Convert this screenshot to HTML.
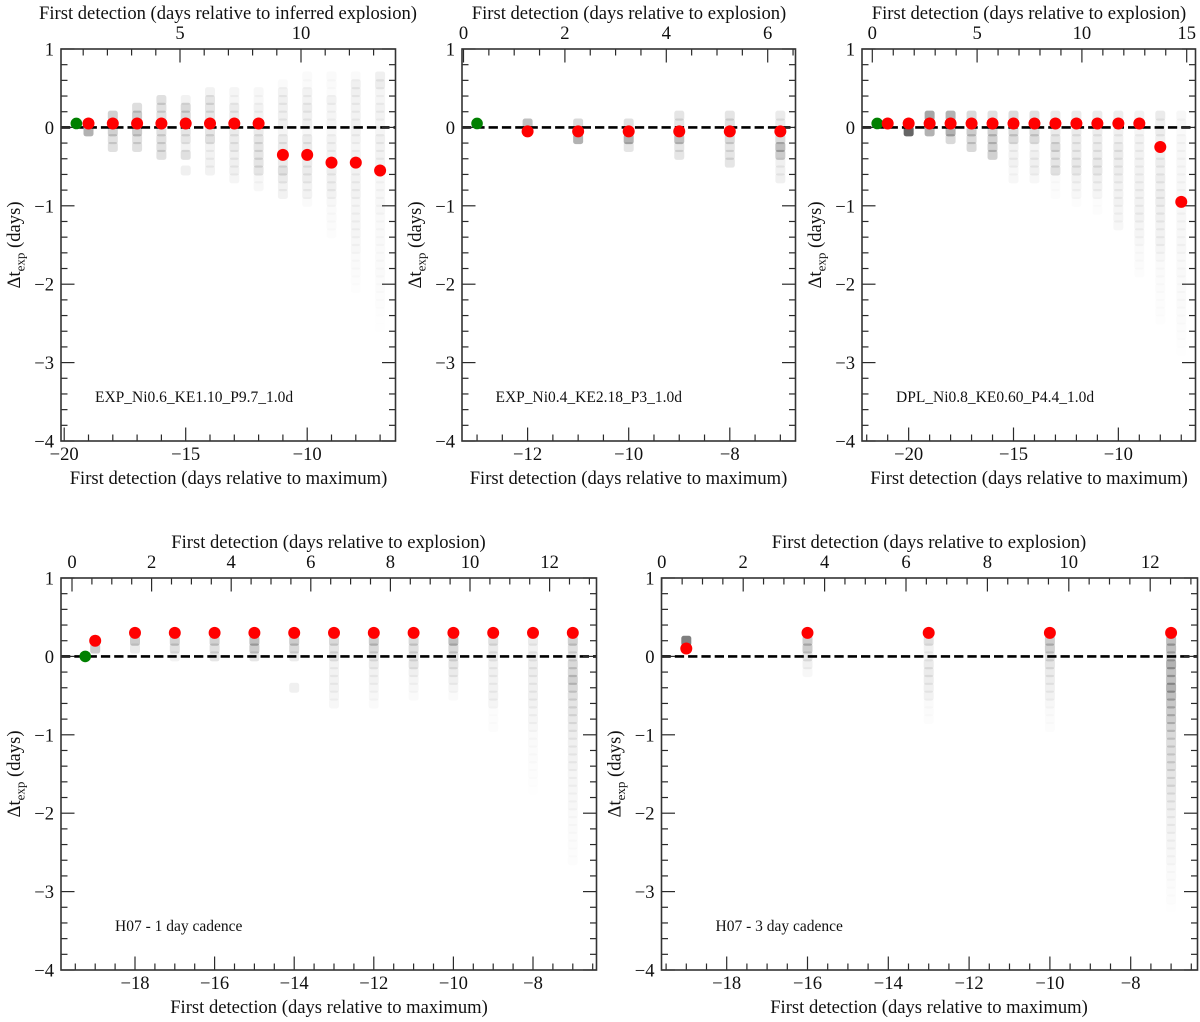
<!DOCTYPE html>
<html lang="en">
<head>
<meta charset="utf-8">
<title>First detection timing panels</title>
<style>
html,body{margin:0;padding:0;background:#fff;width:1200px;height:1022px;overflow:hidden}
svg{display:block}
text{font-family:"Liberation Serif",serif;fill:#111}
</style>
</head>
<body>
<svg id="chart" width="1200" height="1022" viewBox="0 0 1200 1022" xmlns="http://www.w3.org/2000/svg"></svg>
<script>
// Shared y axis
const yMajorTicks = [1, 0, -1, -2, -3, -4];

// Panel 1
const p1Days = [-19, -18, -17, -16, -15, -14, -13, -12, -11, -10, -9, -8, -7];
const p1Delta = [0.05, 0.05, 0.05, 0.05, 0.05, 0.05, 0.05, 0.05, -0.35, -0.35, -0.45, -0.45, -0.55];
const p1Green = [-19.5, 0.05];
const p1Tops = [0.05, 0.15, 0.25, 0.35, 0.35, 0.45, 0.45, 0.45, 0.55, 0.65, 0.65, 0.65, 0.65];
const p1Density = [
  [30, 30],
  [18, 18, 18, 12, 12],
  [13, 20, 20, 20, 12, 12],
  [12, 12, 12, 12, 12, 12, 12, 12],
  [5, 15, 15, 13, 10, 10, 5, 12, 0, 6],
  [5, 10, 10, 10, 10, 10, 12, 5, 5, 5, 5],
  [4, 4, 8, 8, 8, 8, 8, 8, 6, 6, 6, 4],
  [3, 3, 5, 5, 8, 8, 10, 10, 10, 10, 10, 3, 3],
  [2, 5, 6, 6, 6, 6, 4, 8, 8, 8, 8, 12, 8, 5, 5],
  [2, 2, 5, 5, 7, 6, 6, 3, 8, 8, 8, 8, 8, 7, 5, 5, 2],
  [2, 2, 1.5, 5, 4, 4, 4, 3, 5, 5, 5, 5, 7, 6, 6, 5, 3, 2, 2, 1.5, 1],
  [2, 6, 6, 5, 5, 5, 5, 5, 5, 4, 5, 5, 5, 5, 5, 5, 4, 4, 4, 4, 4, 3, 3, 2, 2, 1.5, 1, 0.8],
  [6, 7, 4, 4, 5, 5, 4, 4, 6, 5, 5, 5, 3, 3, 3, 3, 3, 3, 2.5, 2.5, 2.5, 2.5, 2, 2, 2, 2, 1.5, 1.5, 1, 1, 0.8, 0.5, 0.3]
];
const p1BottomTicks = [-20, -15, -10];
const p1TopTicks = [5, 10];

// Panel 2
const p2Days = [-12, -11, -10, -9, -8, -7];
const p2Delta = [-0.05, -0.05, -0.05, -0.05, -0.05, -0.05];
const p2Green = [-13, 0.05];
const p2Tops = [0.05, 0.05, 0.05, 0.15, 0.15, 0.15];
const p2Density = [
  [25, 25],
  [15, 15, 30],
  [12, 20, 30, 10],
  [10, 10, 15, 25, 10, 10],
  [10, 12, 12, 15, 10, 10, 10],
  [8, 8, 8, 15, 25, 20, 6, 6, 6]
];
const p2BottomTicks = [-12, -10, -8];
const p2TopTicks = [0, 2, 4, 6];

// Panel 3
const p3Days = [-21, -20, -19, -18, -17, -16, -15, -14, -13, -12, -11, -10, -9, -8, -7];
const p3Delta = [0.05, 0.05, 0.05, 0.05, 0.05, 0.05, 0.05, 0.05, 0.05, 0.05, 0.05, 0.05, 0.05, -0.25, -0.95];
const p3Green = [-21.5, 0.05];
const p3Tops = [0.05, 0.05, 0.15, 0.15, 0.15, 0.15, 0.15, 0.15, 0.15, 0.15, 0.15, 0.15, 0.15, 0.15, 0.15];
const p3Density = [
  [20],
  [50, 60],
  [35, 35, 30],
  [30, 30, 30, 15],
  [15, 20, 20, 15, 15],
  [12, 12, 18, 18, 18, 18],
  [14, 14, 14, 14, 5, 5, 5, 3, 3],
  [12, 12, 14, 14, 4, 6, 6, 6, 3],
  [8, 10, 8, 10, 14, 10, 10, 12, 2, 1.5, 1],
  [8, 8, 8, 8, 8, 8, 9, 9, 5, 4, 3, 1],
  [8, 8, 7, 7, 8, 8, 9, 9, 6, 5, 4, 1, 1],
  [7, 7, 6, 6, 8, 8, 7, 7, 6, 5, 5, 5, 4, 4, 3],
  [5, 5, 4, 5, 5, 5, 5, 5, 5, 5, 5, 5, 5, 5, 4, 4, 3, 2, 2, 1.5, 1],
  [8, 6, 7, 6, 7, 6, 7, 6, 7, 6, 7, 7, 6, 6, 5, 5, 5, 4, 3, 2, 2, 1.5, 1.5, 1.2, 1, 1, 0.6],
  [3, 3, 2, 3, 3, 3, 3, 3, 3, 3, 3, 3, 3, 3, 3, 3, 3, 3, 2.5, 2.5, 2.5, 2, 2, 2, 2, 1.5, 1.5, 1, 1, 0.7, 0.5]
];
const p3BottomTicks = [-20, -15, -10];
const p3TopTicks = [0, 5, 10, 15];

// Panel 4
const p4Days = [-19, -18, -17, -16, -15, -14, -13, -12, -11, -10, -9, -8, -7];
const p4Delta = [0.2, 0.3, 0.3, 0.3, 0.3, 0.3, 0.3, 0.3, 0.3, 0.3, 0.3, 0.3, 0.3];
const p4Green = [-19.25, 0];
const p4Tops = [0.2, 0.2, 0.2, 0.2, 0.2, 0.2, 0.2, 0.2, 0.2, 0.2, 0.2, 0.2, 0.2];
const p4Density = [
  [15, 20],
  [20, 8],
  [18, 12, 5],
  [18, 12, 10],
  [25, 20, 10],
  [20, 15, 8, 0, 0, 0, 6],
  [15, 10, 10, 5, 5, 5, 5, 4, 3],
  [20, 15, 10, 8, 5, 5, 4, 3, 2],
  [15, 12, 10, 10, 6, 4, 3, 2],
  [25, 15, 12, 10, 8, 6, 4, 2],
  [12, 8, 8, 6, 6, 5, 5, 5, 4, 1, 1, 1],
  [8, 5, 7, 7, 7, 6, 6, 6, 5, 4, 4, 3, 2, 2, 1.5, 1.5, 1, 1, 0.8, 0.5],
  [18, 12, 10, 15, 15, 18, 15, 12, 10, 10, 9, 8, 7, 6, 6, 5, 5, 4, 4, 3.5, 3, 3, 2.5, 2, 2, 1.5, 1.5, 1, 1]
];
const p4BottomTicks = [-18, -16, -14, -12, -10, -8];
const p4TopTicks = [0, 2, 4, 6, 8, 10, 12];

// Panel 5
const p5Days = [-19, -16, -13, -10, -7];
const p5Delta = [0.1, 0.3, 0.3, 0.3, 0.3];
const p5Tops = [0.2, 0.2, 0.2, 0.2, 0.2];
const p5Density = [
  [50, 50],
  [20, 20, 10, 6, 3],
  [12, 5, 5, 8, 8, 7, 6, 5, 2, 1.5, 1],
  [20, 18, 12, 10, 8, 7, 6, 5, 3, 2, 1.5, 1],
  [25, 25, 20, 30, 25, 25, 30, 25, 22, 20, 20, 17, 15, 13, 13, 12, 12, 10, 10, 9, 8, 7, 6, 5, 5, 4, 4, 3, 3, 2, 2, 1.5, 1, 1, 0.5]
];
const p5BottomTicks = [-18, -16, -14, -12, -10, -8];
const p5TopTicks = [0, 2, 4, 6, 8, 10, 12];

const SVG_NS = 'http://www.w3.org/2000/svg';
const root = document.getElementById('chart');

function make(tag, attrs, parent) {
  const el = document.createElementNS(SVG_NS, tag);
  for (const k in attrs) el.setAttribute(k, attrs[k]);
  parent.appendChild(el);
  return el;
}
function fmt(v) {
  return v < 0 ? '\u2212' + Math.abs(v) : String(v);
}
function range(from, to, step) {
  const out = [];
  const n = Math.round((to - from) / step);
  for (let i = 0; i <= n; i++) out.push(from + i * step);
  return out;
}

function drawPanel(cfg) {
  const L = cfg.left, R = cfg.right, T = cfg.top, B = T + 392;
  const id = cfg.id;
  const sx = function (d) { return cfg.bottomRef + (d - cfg.bottomRefValue) * cfg.bottomScale; };
  const tx = function (d) { return cfg.topRef + (d - cfg.topRefValue) * cfg.topScale; };
  const sy = function (v) { return T + (1 - v) * 78.4; };

  const g = make('g', {}, root);
  
  

  // density columns
  const cols = make('g', {}, g);
  
  
  cfg.days.forEach(function (d, c) {
    cfg.density[c].forEach(function (pct, i) {
      if (pct <= 0) return;
      const level = cfg.tops[c] - i * 0.1;
      const cell = make('rect', {
        x: sx(d) - 5, y: sy(level) - 5, width: 10, height: 10, rx: 2.5,
        fill: '#000', 'fill-opacity': pct / 100
      }, cols);
      
      
    });
  });

  // zero line
  const zero = make('line', {
    x1: L, x2: R, y1: sy(0), y2: sy(0), stroke: '#000', 'stroke-width': 2.6,
    'stroke-dasharray': '9.3 4'
  }, g);
  
  

  // ticks
  const ticks = make('g', { stroke: '#2a2a2a', 'stroke-width': 1.2 }, g);
  
  
  function addTick(x1, y1, x2, y2, name) {
    const t = make('line', { x1: x1, y1: y1, x2: x2, y2: y2 }, ticks);
    
    
  }
  range(-4, 1, 0.2).forEach(function (v) {
    const major = Math.abs(v - Math.round(v)) < 1e-6;
    const len = major ? 13.5 : 6.5;
    addTick(L, sy(v), L + len, sy(v), id + '-y-tick-left');
    addTick(R - len, sy(v), R, sy(v), id + '-y-tick-right');
  });
  range(cfg.bottomMinorStart, cfg.bottomMinorEnd, cfg.minorStep).forEach(function (d) {
    const px = sx(d);
    if (px < L || px > R) return;
    const major = cfg.bottomTicks.some(function (m) { return Math.abs(m - d) < 1e-6; }) || Math.abs(d % cfg.bottomMajorStep) < 1e-6;
    addTick(px, B, px, B - (major ? 13.5 : 6.5), id + '-x-tick-bottom');
  });
  range(cfg.topMinorStart, cfg.topMinorEnd, cfg.minorStep).forEach(function (d) {
    const px = tx(d);
    if (px < L || px > R) return;
    const major = Math.abs(d % cfg.topMajorStep) < 1e-6;
    addTick(px, T, px, T + (major ? 13.5 : 6.5), id + '-x-tick-top');
  });

  // axes frame
  const frame = make('rect', {
    x: L, y: T, width: R - L, height: B - T, fill: 'none', stroke: '#333', 'stroke-width': 1.6
  }, g);
  
  

  // points
  if (cfg.green) {
    const gp = make('circle', { cx: sx(cfg.green[0]), cy: sy(cfg.green[1]), r: 5.8, fill: '#008000' }, g);
    
    
  }
  cfg.days.forEach(function (d, i) {
    const p = make('circle', { cx: sx(d), cy: sy(cfg.delta[i]), r: 6, fill: '#ff0000' }, g);
    
    
  });

  // tick labels
  yMajorTicks.forEach(function (v) {
    const t = make('text', { x: L - 7, y: sy(v) + 6.5, 'text-anchor': 'end', 'font-size': 18.6 }, g);
    t.textContent = fmt(v);
    
    
  });
  cfg.bottomTicks.forEach(function (v) {
    const t = make('text', { x: sx(v), y: B + 19, 'text-anchor': 'middle', 'font-size': 18.6 }, g);
    t.textContent = fmt(v);
    
    
  });
  cfg.topTicks.forEach(function (v) {
    const t = make('text', { x: tx(v), y: T - 10, 'text-anchor': 'middle', 'font-size': 18.6 }, g);
    t.textContent = fmt(v);
    
    
  });

  // axis titles
  const bt = make('text', { x: cfg.bottomTitleX, y: B + 43, 'text-anchor': 'middle', 'font-size': 18.6 }, g);
  bt.textContent = 'First detection (days relative to maximum)';
  
  

  const tt = make('text', { x: cfg.topTitleX, y: T - 30, 'text-anchor': 'middle', 'font-size': 18.6 }, g);
  tt.textContent = cfg.topTitle;
  
  

  const yt = make('text', {
    x: 0, y: 0, 'text-anchor': 'middle', 'font-size': 18.6,
    transform: 'translate(' + (L - 41) + ',' + (T + 196) + ') rotate(-90)'
  }, g);
  
  
  const s1 = make('tspan', {}, yt);
  s1.textContent = '\u0394t';
  const s2 = make('tspan', { dy: 4.5, 'font-size': 13 }, yt);
  s2.textContent = 'exp';
  const s3 = make('tspan', { dy: -4.5 }, yt);
  s3.textContent = ' (days)';

  // panel annotation
  const note = make('text', { x: cfg.noteX, y: T + 353, 'font-size': 15.5 }, g);
  note.textContent = cfg.note;
  
  
}

drawPanel({
  id: 'panel-exp-ni06', left: 61, right: 395.5, top: 49,
  days: p1Days, delta: p1Delta, green: p1Green, tops: p1Tops, density: p1Density,
  bottomTicks: p1BottomTicks, topTicks: p1TopTicks,
  bottomRef: 185.7, bottomRefValue: -15, bottomScale: 24.3,
  topRef: 180, topRefValue: 5, topScale: 24.2,
  minorStep: 1, bottomMajorStep: 5, topMajorStep: 5,
  bottomMinorStart: -21, bottomMinorEnd: -5, topMinorStart: 0, topMinorEnd: 16,
  topTitle: 'First detection (days relative to inferred explosion)', topTitleX: 228, bottomTitleX: 228.5,
  note: 'EXP_Ni0.6_KE1.10_P9.7_1.0d', noteX: 95
});
drawPanel({
  id: 'panel-exp-ni04', left: 462, right: 795.5, top: 49,
  days: p2Days, delta: p2Delta, green: p2Green, tops: p2Tops, density: p2Density,
  bottomTicks: p2BottomTicks, topTicks: p2TopTicks,
  bottomRef: 628.7, bottomRefValue: -10, bottomScale: 50.55,
  topRef: 463.5, topRefValue: 0, topScale: 50.7,
  minorStep: 0.5, bottomMajorStep: 2, topMajorStep: 2,
  bottomMinorStart: -14, bottomMinorEnd: -6, topMinorStart: 0, topMinorEnd: 7,
  topTitle: 'First detection (days relative to explosion)', topTitleX: 629, bottomTitleX: 628.5,
  note: 'EXP_Ni0.4_KE2.18_P3_1.0d', noteX: 495.5
});
drawPanel({
  id: 'panel-dpl-ni08', left: 862, right: 1195.5, top: 49,
  days: p3Days, delta: p3Delta, green: p3Green, tops: p3Tops, density: p3Density,
  bottomTicks: p3BottomTicks, topTicks: p3TopTicks,
  bottomRef: 1013.5, bottomRefValue: -15, bottomScale: 20.97,
  topRef: 872.3, topRefValue: 0, topScale: 20.96,
  minorStep: 1, bottomMajorStep: 5, topMajorStep: 5,
  bottomMinorStart: -23, bottomMinorEnd: -5, topMinorStart: 0, topMinorEnd: 16,
  topTitle: 'First detection (days relative to explosion)', topTitleX: 1029, bottomTitleX: 1029,
  note: 'DPL_Ni0.8_KE0.60_P4.4_1.0d', noteX: 896
});
drawPanel({
  id: 'panel-h07-1day', left: 61, right: 596.5, top: 578,
  days: p4Days, delta: p4Delta, green: p4Green, tops: p4Tops, density: p4Density,
  bottomTicks: p4BottomTicks, topTicks: p4TopTicks,
  bottomRef: 135, bottomRefValue: -18, bottomScale: 39.8,
  topRef: 72, topRefValue: 0, topScale: 39.8,
  minorStep: 0.5, bottomMajorStep: 2, topMajorStep: 2,
  bottomMinorStart: -20, bottomMinorEnd: -6, topMinorStart: 0, topMinorEnd: 14,
  topTitle: 'First detection (days relative to explosion)', topTitleX: 328.5, bottomTitleX: 329,
  note: 'H07 - 1 day cadence', noteX: 115
});
drawPanel({
  id: 'panel-h07-3day', left: 661.5, right: 1197.5, top: 578,
  days: p5Days, delta: p5Delta, green: null, tops: p5Tops, density: p5Density,
  bottomTicks: p5BottomTicks, topTicks: p5TopTicks,
  bottomRef: 726.7, bottomRefValue: -18, bottomScale: 40.4,
  topRef: 661.8, topRefValue: 0, topScale: 40.7,
  minorStep: 0.5, bottomMajorStep: 2, topMajorStep: 2,
  bottomMinorStart: -20, bottomMinorEnd: -6, topMinorStart: 0, topMinorEnd: 14,
  topTitle: 'First detection (days relative to explosion)', topTitleX: 929, bottomTitleX: 929,
  note: 'H07 - 3 day cadence', noteX: 715.5
});
</script>
</body>
</html>
